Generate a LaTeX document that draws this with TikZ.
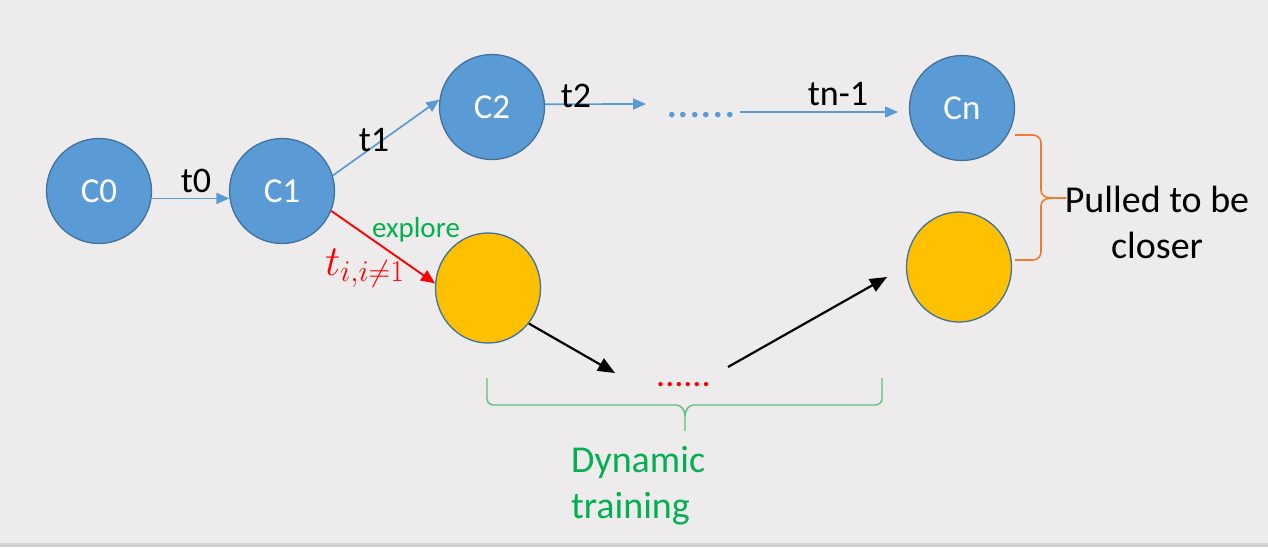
\documentclass[tikz,border=0pt]{standalone}
\usepackage{fix-cm}
\usepackage{fontspec}
\setmainfont{Carlito}
\usetikzlibrary{arrows.meta,shapes.geometric}
\definecolor{bg}{HTML}{EDEBEC}
\definecolor{strip}{HTML}{D2D2D2}
\definecolor{cblue}{HTML}{5B9BD5}
\definecolor{cedge}{HTML}{41719C}
\definecolor{cyel}{HTML}{FFC000}
\definecolor{cred}{HTML}{FF0000}
\definecolor{cgreen}{HTML}{00B050}
\definecolor{cbrace}{HTML}{5CC084}
\definecolor{corange}{HTML}{ED7D31}
\tikzset{
  state/.style={circle, fill=cblue, draw=cedge, line width=1.3pt, minimum size=105pt, inner sep=0pt, text=white, font=\fontsize{35}{40}\selectfont},
  ystate/.style={ellipse, fill=cyel, draw=cedge, line width=1.3pt, minimum width=105pt, minimum height=110pt, inner sep=0pt},
  barrow/.style={draw=cblue, line width=1.7pt, -{Triangle[length=13pt,width=11pt]}},
  rarrow/.style={draw=cred, line width=1.9pt, -{Triangle[length=14pt,width=12pt]}},
  karrow/.style={draw=black, line width=2.2pt, -{Triangle[length=17pt,width=14pt]}},
  lbl/.style={font=\fontsize{36}{40}\selectfont, inner sep=0pt},
  dotsb/.style={font=\fontsize{46}{50}\selectfont, text=cblue, inner sep=0pt},
  dotsr/.style={font=\fontsize{36}{40}\selectfont, text=cred, inner sep=0pt},
  bigtext/.style={font=\fontsize{38}{46}\selectfont, inner sep=0pt, align=left}
}
\begin{document}
\begin{tikzpicture}[x=1pt,y=-1pt]
\fill[bg] (0,0) rectangle (1268,547);
\fill[strip] (0,543) rectangle (1268,547);
\useasboundingbox (0,0) rectangle (1268,547);

% nodes
\node[state] (C0) at (99,191) {C0};
\node[state] (C1) at (282,191) {C1};
\node[state] (C2) at (492,107) {C2};
\node[state] (Cn) at (962,108) {Cn};
\node[ystate] (Y1) at (488,288) {};
\node[ystate] (Y2) at (959,267) {};
\node[dotsb, anchor=base west] (bd) at (666,117) {......};
\node[dotsr, anchor=base west] (rd) at (656,386) {......};

% free ends
\coordinate (a1) at (646,104);
\coordinate (a2) at (740,112);
\coordinate (a3) at (898,112);
\coordinate (k1) at (615,373);
\coordinate (k2) at (728,367);
\coordinate (k3) at (887,277);

% connectors
\draw[barrow] (C0.-8) -- (C1.188);
\draw[barrow] (C1.17) -- (C2.172);
\draw[barrow] (C2.3) -- (a1);
\draw[barrow] (a2) -- (a3);
\draw[rarrow] (C1.-22) -- (Y1.175);
\draw[karrow] (Y1.-41) -- (k1);
\draw[karrow] (k2) -- (k3);

% labels
\node[lbl, anchor=base] (t0) at (196,192) {t0};
\node[lbl, anchor=base] (t1) at (374,151) {t1};
\node[lbl, anchor=base] (t2) at (576,107) {t2};
\node[lbl, anchor=base] (tn) at (838,105) {tn-1};
\node[font=\fontsize{29}{32}\selectfont, text=cgreen, inner sep=0pt, anchor=base] (ex) at (416,237) {explore};
\node[text=cred, inner sep=0pt, anchor=base west, font=\fontsize{43}{48}\selectfont] (ti) at (325,275) {$t_{i,i\neq 1}$};

% green brace
\draw[cbrace, line width=1.4pt] (487,378) -- (487,399) to[out=-90,in=180] (494,405) -- (676,405) to[out=0,in=90] (685,416) -- (685,431);
\draw[cbrace, line width=1.4pt] (882,378) -- (882,399) to[out=-90,in=0] (875,405) -- (694,405) to[out=180,in=90] (685,416);
\node[bigtext, text=cgreen, anchor=north west] (dyn) at (571,446) {Dynamic\\training};

% orange brace
\draw[corange, line width=1.6pt] (1015,135) -- (1033,135) to[out=0,in=90] (1041,143) -- (1041,190) to[out=-90,in=180] (1066,198);
\draw[corange, line width=1.6pt] (1015,260) -- (1033,260) to[out=0,in=-90] (1041,252) -- (1041,206) to[out=90,in=180] (1066,198);
\node[bigtext, align=center, anchor=center] (pull) at (1157,222) {Pulled to be\\closer};
\end{tikzpicture}
\end{document}
